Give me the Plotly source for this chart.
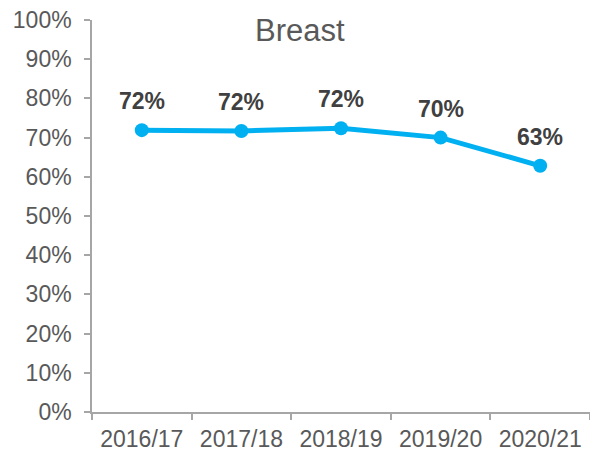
import plotly.graph_objects as go

categories = ["2016/17", "2017/18", "2018/19", "2019/20", "2020/21"]
values = [0.719, 0.717, 0.724, 0.700, 0.628]
labels = ["72%", "72%", "72%", "70%", "63%"]
title_text = "Breast"

line_color = "#00B0F0"
axis_color = "#A6A6A6"
tick_color = "#595959"
FONT = "Liberation Sans, Arial"

fig = go.Figure()
fig.add_trace(go.Scatter(
    x=categories, y=values, mode="lines+markers",
    line=dict(color=line_color, width=5),
    marker=dict(color=line_color, size=14),
    hoverinfo="skip", showlegend=False,
))

for c, v, t in zip(categories, values, labels):
    fig.add_annotation(x=c, y=v, text="<b>" + t + "</b>", showarrow=False,
                       yshift=29, font=dict(family=FONT, size=23, color="#404040"))

fig.add_annotation(xref="paper", yref="paper", x=0.418, y=0.974, text=title_text,
                   showarrow=False, xanchor="center", yanchor="middle",
                   font=dict(family=FONT, size=31, color=tick_color))

fig.update_layout(
    width=590, height=453,
    margin=dict(l=92, r=0, t=20, b=41),
    paper_bgcolor="white", plot_bgcolor="white",
    font=dict(family=FONT, size=23, color=tick_color),
)
fig.update_xaxes(
    type="category", range=[-0.5, 4.5], tickson="boundaries",
    showline=True, linecolor=axis_color, linewidth=1.5,
    ticks="outside", ticklen=6, tickcolor=axis_color, tickwidth=1.5,
    ticklabelstandoff=6,
    showgrid=False, tickfont=dict(size=23, color=tick_color), fixedrange=True,
)
fig.update_yaxes(
    range=[0, 1], dtick=0.1, tickformat=".0%",
    showline=True, linecolor=axis_color, linewidth=1.5,
    ticks="outside", ticklen=6, tickcolor=axis_color, tickwidth=1.5,
    ticklabelstandoff=8,
    showgrid=False, zeroline=False, tickfont=dict(size=23, color=tick_color), fixedrange=True,
)

fig.write_html("out.html", config={"displayModeBar": False},
               post_script="document.body.style.margin='0';")
